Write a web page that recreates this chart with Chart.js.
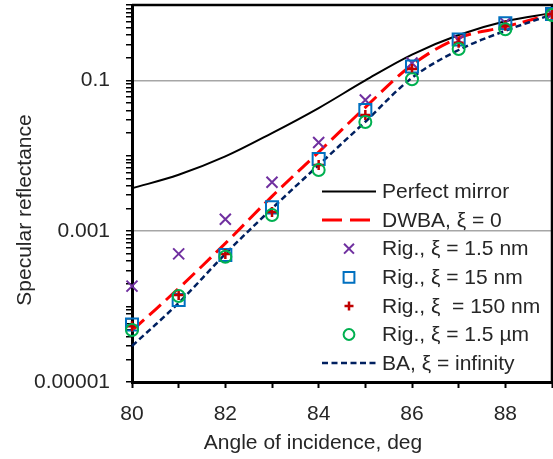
<!DOCTYPE html>
<html>
<head>
<meta charset="utf-8">
<script src="https://cdn.jsdelivr.net/npm/chart.js@4"></script>
<style>
  html, body { margin: 0; padding: 0; background: #fff; }
  #wrap { width: 553px; height: 459px; position: relative; }
</style>
</head>
<body>
<div id="wrap"><canvas id="chart"></canvas></div>
<script>
const angles = [80, 81, 82, 83, 84, 85, 86, 87, 88, 89];

const perfectMirror = [0.0037, 0.0056, 0.0098, 0.020, 0.043, 0.100, 0.22, 0.40, 0.61, 0.78];
const dwba = [4.8e-5, 1.75e-4, 6.9e-4, 2.9e-3, 0.0112, 0.044, 0.16, 0.365, 0.515, 0.76];
const rig1p5nm = [1.87e-4, 5.0e-4, 1.44e-3, 4.45e-3, 0.0150, 0.055, 0.170, 0.343, 0.577, 0.76];
const rig15nm = [5.8e-5, 1.22e-4, 4.83e-4, 2.07e-3, 9.07e-3, 0.0405, 0.153, 0.349, 0.572, 0.76];
const rig150nm = [5.5e-5, 1.43e-4, 5.0e-4, 1.80e-3, 7.55e-3, 0.0348, 0.142, 0.316, 0.53, 0.76];
const rig1p5um = [4.9e-5, 1.38e-4, 4.59e-4, 1.64e-3, 6.48e-3, 0.0281, 0.1035, 0.261, 0.476, 0.737];
const baInfinity = [3.0e-5, 1.12e-4, 5.0e-4, 2.0e-3, 7.55e-3, 0.0283, 0.108, 0.253, 0.456, 0.748];

const yTickValues = [1e-5, 1e-3, 1e-1];
const yTickLabels = ['0.00001', '0.001', '0.1'];

const textColor = '#262626';
const fontFamily = '"Liberation Sans", Arial, sans-serif';

Chart.defaults.font.family = fontFamily;
Chart.defaults.font.size = 21;
Chart.defaults.color = textColor;

const toPoints = arr => arr.map((v, i) => ({ x: angles[i], y: v }));

function lineSet(label, data, color, width, dash, order) {
  return {
    label,
    data: toPoints(data),
    borderColor: color,
    borderWidth: width,
    borderDash: dash,
    pointRadius: 0,
    fill: false,
    tension: 0.35,
    showLine: true,
    clip: false,
    order,
  };
}

function markerSet(label, data, color, style, radius, width, order) {
  return {
    label,
    data: toPoints(data),
    showLine: false,
    borderColor: color,
    backgroundColor: 'transparent',
    pointStyle: style,
    pointRadius: radius,
    pointBorderWidth: width,
    pointBorderColor: color,
    pointBackgroundColor: 'transparent',
    clip: false,
    order,
  };
}

// legend drawn inside the plot, like the original
const insideLegend = {
  id: 'insideLegend',
  beforeDatasetsDraw(chart) {
    const { ctx, chartArea: a } = chart;
    ctx.save();
    ctx.strokeStyle = '#000';
    ctx.lineWidth = 2.5;
    ctx.beginPath();
    ctx.moveTo(a.left, a.top);
    ctx.lineTo(a.right, a.top);
    ctx.lineTo(a.right, a.bottom);
    ctx.stroke();
    ctx.restore();
  },
  afterDraw(chart) {
    const ctx = chart.ctx;
    ctx.save();
    ctx.font = '21px ' + fontFamily;
    ctx.fillStyle = textColor;
    ctx.textBaseline = 'middle';
    chart.data.datasets.forEach((ds, i) => {
      const y = 191.5 + i * 28.6;
      if (ds.showLine) {
        ctx.save();
        ctx.strokeStyle = ds.borderColor;
        ctx.lineWidth = ds.borderWidth;
        ctx.setLineDash(ds.legendDash || ds.borderDash || []);
        ctx.beginPath();
        ctx.moveTo(322, y);
        ctx.lineTo(376, y);
        ctx.stroke();
        ctx.restore();
      } else {
        ctx.save();
        ctx.strokeStyle = ds.borderColor;
        ctx.fillStyle = 'transparent';
        ctx.lineWidth = ds.pointBorderWidth;
        Chart.helpers.drawPoint(ctx, {
          pointStyle: ds.pointStyle,
          radius: ds.pointRadius * 0.9,
          rotation: 0,
          borderWidth: ds.pointBorderWidth,
        }, 349, y);
        ctx.restore();
      }
      ctx.fillText(ds.label, 382, y + 1);
    });

    // axis titles
    ctx.textAlign = 'center';
    ctx.fillText('Angle of incidence, deg', 313, 443);
    ctx.translate(25, 210);
    ctx.rotate(-Math.PI / 2);
    ctx.fillText('Specular reflectance', 0, 0);
    ctx.restore();
  },
};

const datasets = [
  lineSet('Perfect mirror', perfectMirror, '#000000', 2, [], 10),
  Object.assign(lineSet('DWBA, ξ = 0', dwba, '#FF0000', 3, [16, 7], 9), { legendDash: [20, 8] }),
  markerSet('Rig., ξ = 1.5 nm', rig1p5nm, '#7030A0', 'crossRot', 7.8, 2, 4),
  markerSet('Rig., ξ = 15 nm', rig15nm, '#0070C0', 'rect', 8.5, 2, 3),
  markerSet('Rig., ξ  = 150 nm', rig150nm, '#C00000', 'cross', 5, 2.5, 2),
  markerSet('Rig., ξ = 1.5 µm', rig1p5um, '#00B050', 'circle', 6, 2, 1),
  Object.assign(lineSet('BA, ξ = infinity', baInfinity, '#002060', 2.5, [6, 3.5], 8), { legendDash: [6, 3.5] }),
];

const near = (a, b) => Math.abs(Math.log10(a) - Math.log10(b)) < 1e-6;

new Chart(document.getElementById('chart'), {
  type: 'scatter',
  data: { datasets },
  options: {
    responsive: true,
    maintainAspectRatio: false,
    animation: false,
    layout: { autoPadding: false, padding: { top: 5, right: 1, left: 0, bottom: 0 } },
    plugins: {
      legend: { display: false },
      tooltip: { enabled: false },
    },
    scales: {
      x: {
        type: 'linear',
        min: 80,
        max: 89,
        afterFit: scale => {
          scale.height = 77;
          scale.paddingLeft = 0;
          scale.paddingRight = 0;
        },
        ticks: {
          stepSize: 1,
          autoSkip: false,
          maxRotation: 0,
          padding: 14,
          color: textColor,
          callback: v => (v % 2 === 0 ? String(v) : ''),
        },
        grid: {
          color: 'transparent',
          tickColor: '#000',
          tickLength: 6,
          tickWidth: 2,
        },
        border: { color: '#000', width: 3 },
      },
      y: {
        type: 'logarithmic',
        min: 1e-5,
        max: 1,
        afterFit: scale => {
          scale.width = 132;
          scale.paddingTop = 0;
          scale.paddingBottom = 0;
        },
        afterBuildTicks: scale => {
          const ticks = [];
          for (let e = -5; e < 0; e++) {
            for (let k = 1; k <= 9; k++) ticks.push({ value: k * Math.pow(10, e) });
          }
          ticks.push({ value: 1 });
          scale.ticks = ticks;
        },
        ticks: {
          autoSkip: false,
          padding: 16,
          color: textColor,
          callback: v => {
            const i = yTickValues.findIndex(t => near(t, v));
            return i >= 0 ? yTickLabels[i] : '';
          },
        },
        grid: {
          color: c => (c.tick && (near(c.tick.value, 0.1) || near(c.tick.value, 0.001)) ? '#A6A6A6' : 'transparent'),
          lineWidth: 1.5,
          tickColor: '#000',
          tickLength: 6,
          tickWidth: 1.5,
        },
        border: { color: '#000', width: 3 },
      },
    },
  },
  plugins: [insideLegend],
});
</script>
</body>
</html>
